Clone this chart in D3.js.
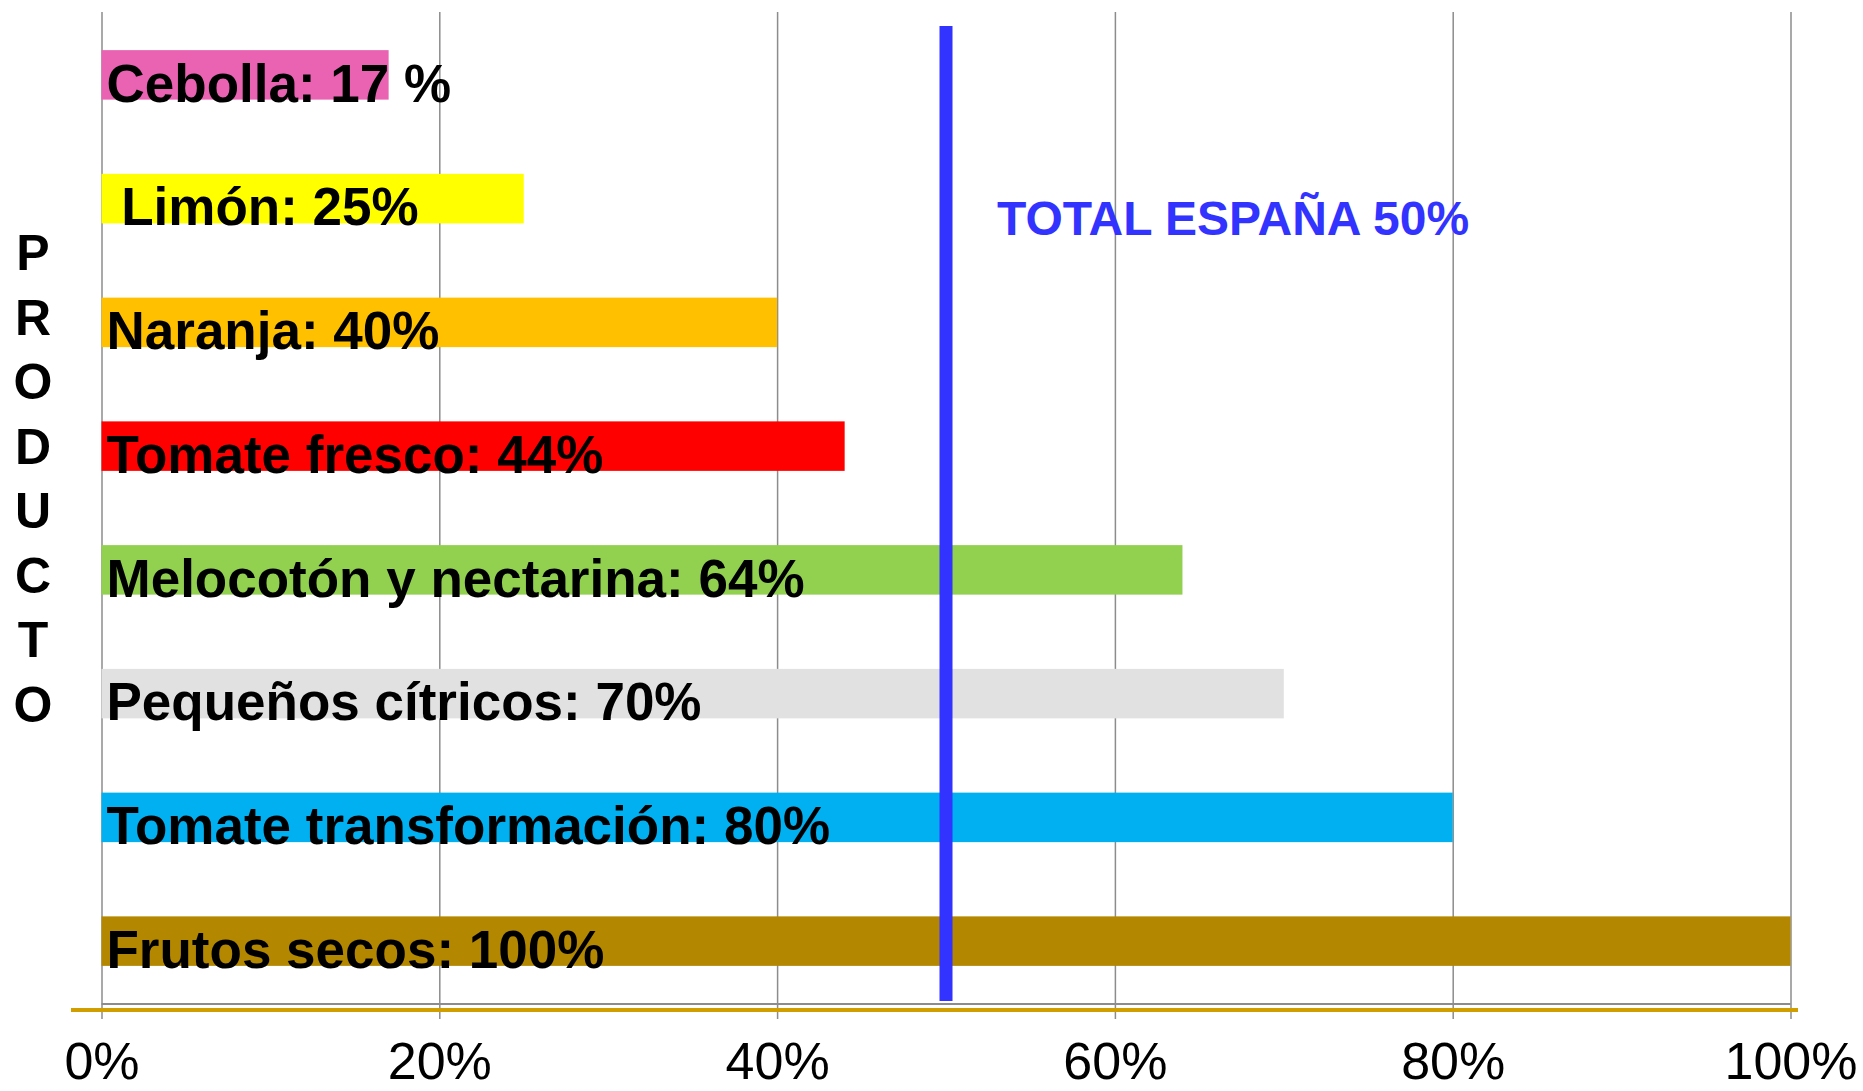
<!DOCTYPE html>
<html>
<head>
<meta charset="utf-8">
<script src="https://cdn.jsdelivr.net/npm/d3@7"></script>
<style>
  body { margin: 0; background: #fff; }
  svg { display: block; font-family: "Liberation Sans", Arial, sans-serif; }
</style>
</head>
<body>
<script>
// chart data
var productos = ["Cebolla", "Limón", "Naranja", "Tomate fresco", "Melocotón y nectarina",
  "Pequeños cítricos", "Tomate transformación", "Frutos secos"];
var porcentajes = [0.17, 0.25, 0.40, 0.44, 0.64, 0.70, 0.80, 1.00];
var etiquetas = ["Cebolla: 17 %", " Limón: 25%", "Naranja: 40%", "Tomate fresco: 44%",
  "Melocotón y nectarina: 64%", "Pequeños cítricos: 70%", "Tomate transformación: 80%", "Frutos secos: 100%"];
var colores = ["#e963b2", "#ffff00", "#ffc000", "#ff0000", "#92d050", "#e1e1e1", "#00b0f0", "#b38700"];
var xTicks = [0, 0.2, 0.4, 0.6, 0.8, 1.0];
var totalEspana = 0.50;
var totalLabel = "TOTAL ESPAÑA 50%";
var yTitle = "PRODUCTO";

var svgWidth = 1863;
var svgHeight = 1091;

var svg = d3.select("body")
  .append("svg")
  .attr("width", svgWidth)
  .attr("height", svgHeight);

// scales
var xScale = d3.scaleLinear()
  .domain([0, 1])
  .range([101.5, 1790.5]);

var yScale = d3.scaleBand()
  .domain(productos)
  .range([13, 1003])
  .paddingInner(0.6)
  .paddingOuter(0.3);

// vertical gridlines + tick labels
var xAxis = d3.axisBottom(xScale)
  .tickValues(xTicks)
  .tickFormat(d3.format(".0%"))
  .tickSize(-1007);

var axisG = svg.append("g")
  .attr("transform", "translate(0, 1019)")
  .call(xAxis);

axisG.select(".domain").remove();
axisG.selectAll(".tick line")
  .attr("stroke", "#8c8c8c")
  .attr("stroke-width", 1.5);
axisG.selectAll(".tick text")
  .attr("y", 60)
  .attr("dy", 0)
  .attr("fill", "#000")
  .style("font-size", "52px")
  .style("font-family", "'Liberation Sans', Arial, sans-serif");

// plot bottom border and gold axis line
svg.append("line")
  .attr("x1", xScale(0))
  .attr("x2", xScale(1))
  .attr("y1", 1004)
  .attr("y2", 1004)
  .attr("stroke", "#8c8c8c")
  .attr("stroke-width", 2);

svg.append("line")
  .attr("x1", 71)
  .attr("x2", 1798)
  .attr("y1", 1010)
  .attr("y2", 1010)
  .attr("stroke", "#d19e00")
  .attr("stroke-width", 4);

// bars
svg.selectAll(".bar")
  .data(productos)
  .enter()
  .append("rect")
  .attr("class", "bar")
  .attr("x", xScale(0))
  .attr("y", d => yScale(d))
  .attr("width", (d, i) => xScale(porcentajes[i]) - xScale(0))
  .attr("height", yScale.bandwidth())
  .attr("fill", (d, i) => colores[i]);

// bar labels
svg.selectAll(".barLabel")
  .data(productos)
  .enter()
  .append("text")
  .attr("class", "barLabel")
  .attr("x", xScale(0) + 5)
  .attr("y", d => yScale(d) + yScale.bandwidth() + 2)
  .style("white-space", "pre")
  .attr("font-size", "53px")
  .attr("font-weight", "bold")
  .attr("fill", "#000")
  .text((d, i) => etiquetas[i]);

// total line
svg.append("line")
  .attr("x1", xScale(totalEspana))
  .attr("x2", xScale(totalEspana))
  .attr("y1", 26)
  .attr("y2", 1001)
  .attr("stroke", "#3333ff")
  .attr("stroke-width", 13);

svg.append("text")
  .attr("x", 997)
  .attr("y", 235)
  .attr("font-size", "48px")
  .attr("font-weight", "bold")
  .attr("fill", "#3333ff")
  .text(totalLabel);

// y title, stacked letters
svg.selectAll(".yLetter")
  .data(yTitle.split(""))
  .enter()
  .append("text")
  .attr("class", "yLetter")
  .attr("x", 33)
  .attr("y", (d, i) => 270 + i * 64.5)
  .attr("text-anchor", "middle")
  .attr("font-size", "50px")
  .attr("font-weight", "bold")
  .attr("fill", "#000")
  .text(d => d);
</script>
</body>
</html>
